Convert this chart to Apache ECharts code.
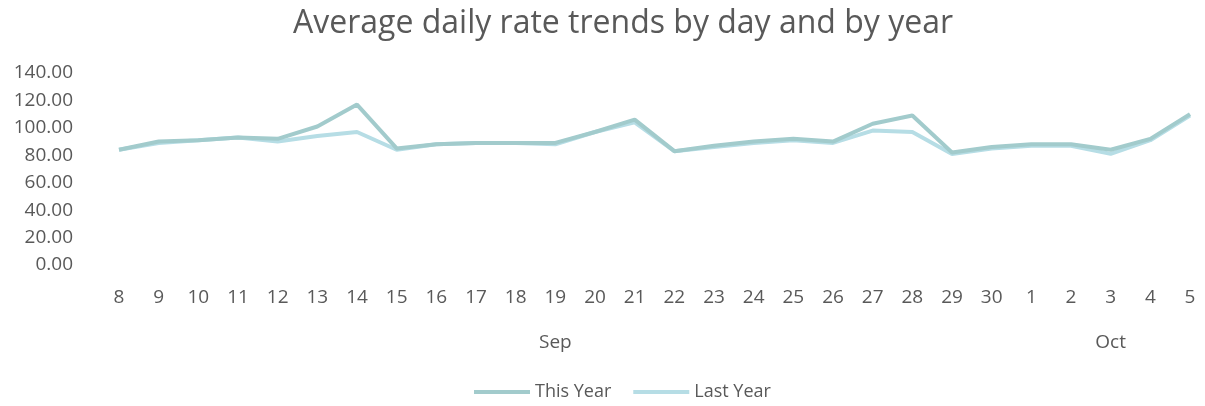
<!DOCTYPE html>
<html><head><meta charset="utf-8">
<script src="https://cdn.jsdelivr.net/npm/echarts@6/dist/echarts.min.js"></script>
<style>html,body{margin:0;padding:0;background:#fff}#c{width:1205px;height:406px}</style>
</head><body><div id="c"></div>
<script>
const days = ['8','9','10','11','12','13','14','15','16','17','18','19','20','21','22','23','24','25','26','27','28','29','30','1','2','3','4','5'];
const months = ['Sep','Sep','Sep','Sep','Sep','Sep','Sep','Sep','Sep','Sep','Sep','Sep','Sep','Sep','Sep','Sep','Sep','Sep','Sep','Sep','Sep','Sep','Sep','Oct','Oct','Oct','Oct','Oct'];
const thisYear = [84, 90, 91, 93, 92, 101, 117, 85, 88, 89, 89, 89, 97, 106, 83, 87, 90, 92, 90, 103, 109, 82, 86, 88, 88, 84, 92, 110];
const lastYear = [84, 89, 91, 93, 90, 94, 97, 84, 88, 89, 89, 88, 97, 104, 83, 86, 89, 91, 89, 98, 97, 81, 85, 87, 87, 81, 91, 109];
const yTicks = [0, 20, 40, 60, 80, 100, 120, 140];

// center index of each month group
const monthCenter = {};
(function(){
  const first = {}, last = {};
  months.forEach((m,i)=>{ if(!(m in first)) first[m]=i; last[m]=i; });
  Object.keys(first).forEach(m=>{ monthCenter[Math.round((first[m]+last[m])/2)] = m; });
})();

const font = '"Open Sans", "Noto Sans", sans-serif';
const chart = echarts.init(document.getElementById('c'));
chart.setOption({
  backgroundColor: '#ffffff',
  animation: false,
  title: {
    text: 'Average daily rate trends by day and by year',
    left: 288, top: 3,
    textStyle: { fontFamily: font, fontSize: 32, fontWeight: 'normal', color: '#595959' }
  },
  legend: {
    bottom: 0, left: 469,
    itemWidth: 56, itemHeight: 4, itemGap: 22,
    icon: 'rect',
    textStyle: { fontFamily: font, fontSize: 18, color: '#595959' },
    data: ['This Year', 'Last Year']
  },
  grid: { left: 119, right: 15, top: 73, height: 192 },
  xAxis: [{
    type: 'category', data: days, boundaryGap: false,
    axisLine: { show: false }, axisTick: { show: false },
    axisLabel: { fontFamily: font, fontSize: 19, color: '#595959', margin: 23, interval: 0 }
  }, {
    type: 'category', data: months, boundaryGap: false, position: 'bottom',
    axisLine: { show: false }, axisTick: { show: false },
    axisLabel: {
      fontFamily: font, fontSize: 19, color: '#595959', margin: 68, interval: 0,
      formatter: (v, i) => monthCenter[i] || ''
    }
  }],
  yAxis: {
    type: 'value', min: yTicks[0], max: yTicks[yTicks.length-1], interval: 20,
    splitLine: { show: false }, axisLine: { show: false }, axisTick: { show: false },
    axisLabel: { fontFamily: font, fontSize: 19, color: '#595959', margin: 46,
      formatter: v => v.toFixed(2) }
  },
  series: [{
    name: 'Last Year', type: 'line', data: lastYear, symbol: 'none',
    lineStyle: { width: 4, color: '#b6dde5' }, itemStyle: { color: '#b6dde5' }
  }, {
    name: 'This Year', type: 'line', data: thisYear, symbol: 'none',
    lineStyle: { width: 4, color: '#a2cbcc' }, itemStyle: { color: '#a2cbcc' }
  }]
});
</script></body></html>
